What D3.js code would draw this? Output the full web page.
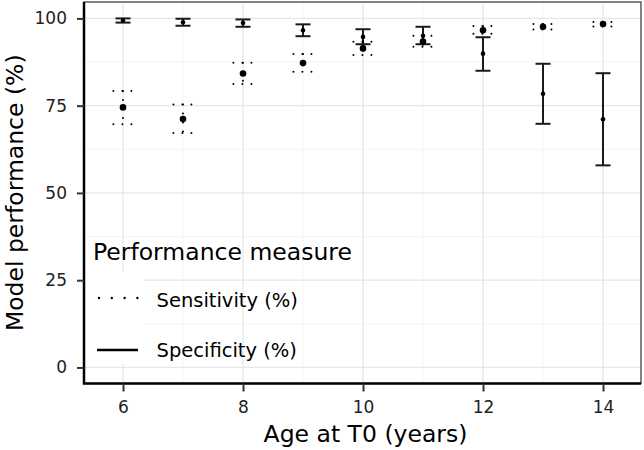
<!DOCTYPE html>
<html>
<head>
<meta charset="utf-8">
<script src="https://cdn.jsdelivr.net/npm/d3@7"></script>
<style>
  body { margin: 0; background: #fff; }
  text { font-family: "DejaVu Sans", sans-serif; }
</style>
</head>
<body>
<div id="chart"></div>
<script>
// data
var ages = [6, 7, 8, 9, 10, 11, 12, 13, 14];
var sensMean = [74.5, 71.2, 84.2, 87.2, 91.4, 93.4, 96.6, 97.6, 98.4];
var sensLow  = [69.7, 67.2, 81.2, 84.7, 89.5, 91.9, 95.6, 96.8, 97.7];
var sensHigh = [79.2, 75.3, 87.3, 89.8, 93.3, 95.0, 97.8, 98.4, 99.0];
var specMean = [99.4, 98.9, 98.7, 96.6, 94.7, 95.0, 89.9, 78.4, 71.1];
var specLow  = [98.8, 97.9, 97.6, 94.9, 92.6, 92.6, 85.0, 69.8, 57.9];
var specHigh = [100, 99.9, 99.7, 98.3, 96.9, 97.6, 94.6, 87.0, 84.3];
var xTicks = [6, 8, 10, 12, 14];
var xMinor = [7, 9, 11, 13];
var yTicks = [0, 25, 50, 75, 100];
var yMinor = [12.5, 37.5, 62.5, 87.5];

var svgWidth = 644;
var svgHeight = 450;
var margin = { top: 2, right: 3, bottom: 66.5, left: 84 };
var width = svgWidth - margin.left - margin.right;
var height = svgHeight - margin.top - margin.bottom;

var svg = d3.select("#chart")
  .append("svg")
  .attr("width", svgWidth)
  .attr("height", svgHeight);

var chartGroup = svg.append("g")
  .attr("transform", `translate(${margin.left}, ${margin.top})`);

var x = d3.scaleLinear().domain([5.35, 14.633]).range([0, width]);
var y = d3.scaleLinear().domain([-4.6, 104.7]).range([height, 0]);

// grid
chartGroup.selectAll(".xminor").data(xMinor).enter().append("line")
  .attr("x1", d => x(d)).attr("x2", d => x(d))
  .attr("y1", 0).attr("y2", height)
  .attr("stroke", "#f2f2f2").attr("stroke-width", 0.8);
chartGroup.selectAll(".yminor").data(yMinor).enter().append("line")
  .attr("y1", d => y(d)).attr("y2", d => y(d))
  .attr("x1", 0).attr("x2", width)
  .attr("stroke", "#f2f2f2").attr("stroke-width", 0.8);
chartGroup.selectAll(".xmajor").data(xTicks).enter().append("line")
  .attr("x1", d => x(d)).attr("x2", d => x(d))
  .attr("y1", 0).attr("y2", height)
  .attr("stroke", "#e6e6e6").attr("stroke-width", 1.3);
chartGroup.selectAll(".ymajor").data(yTicks).enter().append("line")
  .attr("y1", d => y(d)).attr("y2", d => y(d))
  .attr("x1", 0).attr("x2", width)
  .attr("stroke", "#e6e6e6").attr("stroke-width", 1.3);

// legend key background (hides grid behind keys)
chartGroup.append("rect")
  .attr("x", 0).attr("y", 270)
  .attr("width", 60).attr("height", 92)
  .attr("fill", "#fff");

// error bars
function drawBars(lo, hi, half, cls, stroke, sw, dash) {
  var g = chartGroup.append("g").attr("class", cls)
    .attr("stroke", stroke).attr("stroke-width", sw)
    .attr("fill", "none");
  if (dash) g.attr("stroke-dasharray", dash).attr("stroke-linecap", "round");
  ages.forEach(function(a, i) {
    g.append("line").attr("x1", x(a - half)).attr("x2", x(a + half))
      .attr("y1", y(hi[i])).attr("y2", y(hi[i]));
    g.append("line").attr("x1", x(a)).attr("x2", x(a))
      .attr("y1", y(hi[i])).attr("y2", y(lo[i]));
    g.append("line").attr("x1", x(a - half)).attr("x2", x(a + half))
      .attr("y1", y(lo[i])).attr("y2", y(lo[i]));
  });
}
drawBars(specLow, specHigh, 0.125, "spec", "#1a1a1a", 2, null);
drawBars(sensLow, sensHigh, 0.16, "sens", "#000", 2, "0,9");

chartGroup.selectAll(".sensPt").data(ages).enter().append("circle")
  .attr("cx", d => x(d)).attr("cy", (d, i) => y(sensMean[i]))
  .attr("r", 3.3).attr("fill", "#000");
chartGroup.selectAll(".specPt").data(ages).enter().append("circle")
  .attr("cx", d => x(d)).attr("cy", (d, i) => y(specMean[i]))
  .attr("r", 2.3).attr("fill", "#000");

// panel border
chartGroup.append("rect")
  .attr("x", 0).attr("y", 0).attr("width", width).attr("height", height)
  .attr("fill", "none").attr("stroke", "#333").attr("stroke-width", 1.2);
chartGroup.append("path")
  .attr("d", `M0,0V${height}H${width}`)
  .attr("fill", "none").attr("stroke", "#000").attr("stroke-width", 2.5);

// axes
var bottomAxis = d3.axisBottom(x).tickValues(xTicks).tickSize(8).tickPadding(9);
var leftAxis = d3.axisLeft(y).tickValues(yTicks).tickSize(7).tickPadding(10);

var xAxis = chartGroup.append("g")
  .attr("transform", `translate(0, ${height})`)
  .call(bottomAxis);
var yAxis = chartGroup.append("g").call(leftAxis);

[xAxis, yAxis].forEach(function(ax) {
  ax.select(".domain").remove();
  ax.selectAll(".tick line").attr("stroke", "#333").attr("stroke-width", 2);
  ax.selectAll(".tick text")
    .attr("fill", "#222")
    .style("font-size", "17px")
    .style("font-family", "DejaVu Sans, sans-serif");
});

// axis titles
svg.append("text")
  .attr("x", margin.left + width / 2 + 3)
  .attr("y", 441.5)
  .attr("text-anchor", "middle")
  .style("font-size", "23.5px")
  .text("Age at T0 (years)");

svg.append("text")
  .attr("transform", `translate(23, ${margin.top + height / 2}) rotate(-90)`)
  .attr("text-anchor", "middle")
  .style("font-size", "23.5px")
  .text("Model performance (%)");

// legend
var legend = chartGroup.append("g");
legend.append("text")
  .attr("x", 9).attr("y", 258)
  .style("font-size", "23.5px")
  .text("Performance measure");

legend.append("line")
  .attr("x1", 15).attr("x2", 53.5).attr("y1", 296).attr("y2", 296)
  .attr("stroke", "#000").attr("stroke-width", 2.4)
  .attr("stroke-dasharray", "0,12.8").attr("stroke-linecap", "round");
legend.append("text")
  .attr("x", 72.5).attr("y", 304.5)
  .style("font-size", "19.5px")
  .text("Sensitivity (%)");

legend.append("line")
  .attr("x1", 13).attr("x2", 54).attr("y1", 348).attr("y2", 348)
  .attr("stroke", "#000").attr("stroke-width", 2.4);
legend.append("text")
  .attr("x", 72.5).attr("y", 355)
  .style("font-size", "19.5px")
  .text("Specificity (%)");
</script>
</body>
</html>
